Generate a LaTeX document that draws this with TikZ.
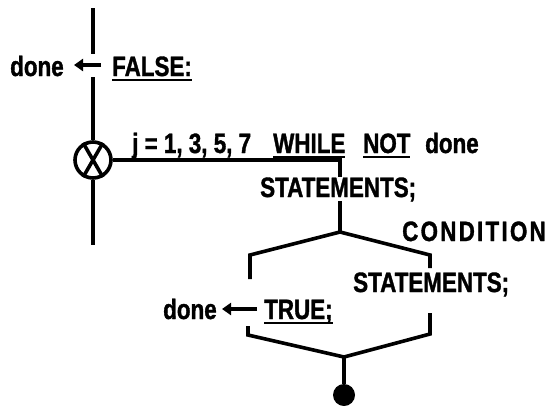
\documentclass[tikz,border=0pt]{standalone}
\usepackage{fontspec}
\setmainfont{Liberation Sans}[FakeStretch=0.8,FakeBold=1.2]
\usetikzlibrary{arrows.meta}
\newcommand{\uword}[1]{\setbox0\hbox{#1}\rlap{\rule[-5pt]{\wd0}{2.4pt}}\box0}

\begin{document}
\begin{tikzpicture}[x=1pt,y=1pt,yscale=-1,
  flow/.style={line width=3.6pt},
  lbl/.style={anchor=base west,inner sep=0pt,font=\fontsize{28}{30}\selectfont\bfseries},
  setarr/.style={line width=3.6pt,-{Triangle[length=9pt,width=12pt]}}]
\useasboundingbox (0,0) rectangle (553,405);

%Loop spine
\coordinate (spinetop) at (93,8);
\coordinate (spinebrkA) at (93,54);
\coordinate (spinebrkB) at (93,77);
\coordinate (spinebot) at (93,245);
\node [circle,draw,line width=3.6pt,minimum size=36pt,inner sep=0pt] (loopx) at (93,160) {};
\draw [flow] (loopx.120) -- (loopx.-60) (loopx.60) -- (loopx.-120);
\draw [flow] (spinetop) -- (spinebrkA);
\draw [flow] (spinebrkB) -- (loopx.north);
\draw [flow] (loopx.south) -- (spinebot);

%Loop body
\coordinate (bodycorner) at (340,160);
\coordinate (stmtop) at (340,177);
\coordinate (stmbot) at (340,201);
\coordinate (split) at (340,232);
\draw [flow] (loopx.east) -- (bodycorner) -- (stmtop);
\draw [flow] (stmbot) -- (split);

%Branches
\coordinate (lefttopA) at (250,255);
\coordinate (lefttopB) at (250,279);
\coordinate (righttopA) at (430,255);
\coordinate (righttopB) at (430,268);
\coordinate (leftbotA) at (248,326);
\coordinate (leftbotB) at (248,335);
\coordinate (rightbotA) at (430,313);
\coordinate (rightbotB) at (430,334);
\coordinate (join) at (344,357);
\node [circle,fill,minimum size=22pt,inner sep=0pt] (exitdot) at (344,395) {};
\draw [flow] (lefttopB) -- (lefttopA) -- (split) -- (righttopA) -- (righttopB);
\draw [flow] (leftbotA) -- (leftbotB) -- (join) -- (rightbotB) -- (rightbotA);
\draw [flow] (join) -- (exitdot);

%Assignment arrows
\coordinate (falsefrom) at (101,65);
\coordinate (falseto) at (74,65);
\coordinate (truefrom) at (257,309);
\coordinate (trueto) at (222,309);
\draw [setarr] (falsefrom) -- (falseto);
\draw [setarr] (truefrom) -- (trueto);

% Text Node
\node [lbl] (donetop) at (10,76) {done};
\node [lbl] (falselbl) at (112,76) {\uword{FALSE:}};
\node [lbl] (loophead) at (132,153) {j = 1, 3, 5, 7};
\node [lbl] (whilelbl) at (273,153) {\uword{WHILE}};
\node [lbl] (notlbl) at (363,153) {\uword{NOT}};
\node [lbl] (donehead) at (425,153) {done};
\node [lbl] (stmtA) at (260,197) {STATEMENTS;};
\node [lbl] (condlbl) at (402,241) {\addfontfeature{LetterSpace=8}CONDITION};
\node [lbl] (stmtB) at (353,292) {STATEMENTS;};
\node [lbl] (donebot) at (163,319) {done};
\node [lbl] (truelbl) at (264,319) {\uword{TRUE;}};
\end{tikzpicture}
\end{document}
